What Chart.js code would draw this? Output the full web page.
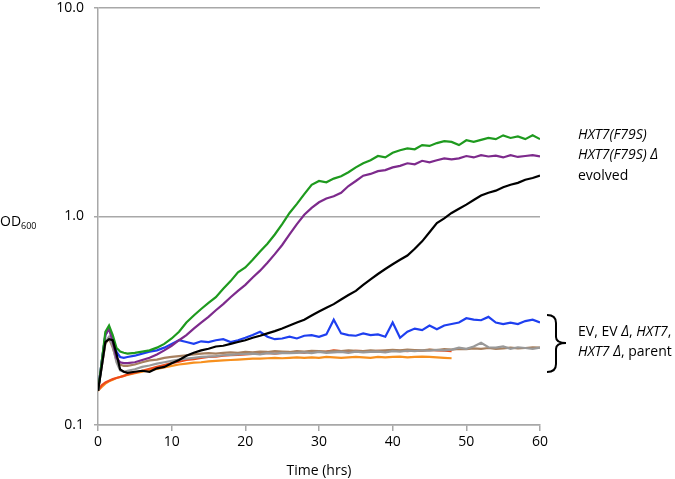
<!DOCTYPE html>
<html><head><meta charset="utf-8">
<script src="https://cdn.jsdelivr.net/npm/chart.js@4.4.1/dist/chart.umd.min.js"></script>
<style>html,body{margin:0;padding:0;background:#fff}#wrap{width:675px;height:479px}</style>
</head><body><div id="wrap"><canvas id="c"></canvas></div>
<script>
// time points (hrs)
const hours=[0,0.5,1,1.5,2,2.5,3,3.5,4,5,6,7,8,9,10,11,12,13,14,15,16,17,18,19,20,21,22,23,24,25,26,27,28,29,30,31,32,33,34,35,36,37,38,39,40,41,42,43,44,45,46,47,48,49,50,51,52,53,54,55,56,57,58,59,60];
const yTicks=[0.1,1,10];
const evolved=[0.146,0.19,0.25,0.258,0.255,0.22,0.185,0.18,0.178,0.18,0.182,0.18,0.187,0.19,0.198,0.205,0.215,0.222,0.228,0.232,0.238,0.24,0.245,0.25,0.255,0.262,0.268,0.275,0.282,0.29,0.3,0.31,0.32,0.335,0.35,0.365,0.38,0.4,0.42,0.44,0.47,0.5,0.53,0.56,0.59,0.62,0.65,0.7,0.76,0.84,0.93,0.98,1.04,1.09,1.14,1.2,1.26,1.3,1.33,1.38,1.42,1.45,1.5,1.53,1.57];
const f79s=[0.146,0.2,0.28,0.3,0.27,0.235,0.225,0.222,0.22,0.222,0.225,0.228,0.235,0.245,0.26,0.28,0.31,0.335,0.36,0.385,0.41,0.45,0.49,0.54,0.57,0.62,0.68,0.74,0.82,0.92,1.04,1.15,1.28,1.42,1.48,1.46,1.52,1.56,1.63,1.72,1.8,1.86,1.95,1.92,2.02,2.08,2.12,2.1,2.2,2.18,2.25,2.3,2.28,2.2,2.32,2.28,2.33,2.38,2.35,2.45,2.38,2.42,2.35,2.45,2.35];
const f79sDel=[0.146,0.2,0.27,0.29,0.25,0.21,0.2,0.198,0.198,0.2,0.205,0.21,0.218,0.228,0.24,0.255,0.27,0.29,0.31,0.33,0.355,0.38,0.41,0.44,0.47,0.51,0.55,0.6,0.66,0.73,0.82,0.92,1.02,1.1,1.17,1.22,1.25,1.3,1.4,1.48,1.57,1.6,1.65,1.67,1.72,1.75,1.8,1.78,1.85,1.82,1.86,1.9,1.88,1.9,1.95,1.92,1.97,1.94,1.96,1.92,1.97,1.93,1.95,1.97,1.94];
const blue=[0.146,0.2,0.27,0.29,0.26,0.225,0.212,0.21,0.212,0.215,0.22,0.225,0.228,0.235,0.245,0.255,0.25,0.245,0.252,0.25,0.255,0.258,0.25,0.255,0.262,0.27,0.28,0.265,0.258,0.26,0.265,0.26,0.268,0.27,0.265,0.272,0.32,0.275,0.27,0.268,0.275,0.27,0.272,0.265,0.31,0.262,0.28,0.29,0.285,0.3,0.288,0.3,0.305,0.31,0.325,0.32,0.318,0.33,0.31,0.305,0.31,0.305,0.315,0.32,0.31];
const gray=[0.146,0.19,0.25,0.265,0.24,0.2,0.183,0.18,0.182,0.185,0.19,0.193,0.197,0.2,0.203,0.206,0.208,0.21,0.212,0.213,0.214,0.216,0.217,0.218,0.219,0.22,0.218,0.221,0.22,0.222,0.221,0.222,0.223,0.221,0.224,0.222,0.223,0.224,0.222,0.225,0.223,0.224,0.225,0.223,0.226,0.225,0.227,0.226,0.228,0.227,0.229,0.228,0.23,0.235,0.232,0.238,0.248,0.236,0.235,0.238,0.232,0.236,0.234,0.232,0.235];
const brown=[0.146,0.19,0.245,0.26,0.235,0.205,0.195,0.192,0.192,0.195,0.2,0.204,0.206,0.21,0.212,0.214,0.216,0.218,0.22,0.221,0.22,0.222,0.223,0.222,0.224,0.223,0.225,0.224,0.226,0.225,0.224,0.226,0.225,0.227,0.226,0.225,0.227,0.226,0.228,0.227,0.226,0.228,0.227,0.228,0.229,0.228,0.23,0.229,0.228,0.23,0.229,0.231,0.23,0.232,0.231,0.233,0.232,0.234,0.232,0.233,0.235,0.233,0.234,0.236,0.235];
const red=[0.146,0.155,0.16,0.163,0.166,0.168,0.17,0.172,0.175,0.178,0.182,0.186,0.19,0.194,0.198,0.201,0.205,0.207,0.21,0.212,0.213,0.215,0.216,0.217,0.218,0.219,0.22,0.222,0.22,0.222,0.223,0.224,0.222,0.226,0.224,0.225,0.228,0.226,0.225,0.227,0.226,0.225,0.227,0.226,0.228,0.227,0.226,0.228,0.227,0.229,0.228,0.227,0.226];
const orange=[0.146,0.152,0.158,0.162,0.165,0.168,0.17,0.172,0.174,0.177,0.18,0.183,0.186,0.189,0.192,0.195,0.197,0.199,0.2,0.202,0.203,0.204,0.205,0.206,0.207,0.208,0.208,0.209,0.21,0.209,0.21,0.211,0.21,0.211,0.21,0.212,0.211,0.21,0.211,0.212,0.211,0.21,0.212,0.211,0.212,0.213,0.211,0.212,0.213,0.212,0.211,0.21,0.209];

const pts=a=>a.map((v,i)=>({x:hours[i],y:v}));
const line=(d,c)=>({data:pts(d),borderColor:c,borderWidth:2.2,pointRadius:0,tension:0,fill:false});
const grid='#a8a8a8';
const FONT='"Open Sans"';

const notes={id:'notes',afterDraw(ch){
 const x=ch.ctx;x.save();x.fillStyle='#000';x.textBaseline='middle';x.textAlign='left';
 x.font='14px '+FONT;x.fillText('OD',0,222);
 x.font='9px '+FONT;x.fillText('600',21,226);
 x.font='italic 14px '+FONT;
 x.fillText('HXT7(F79S)',578,135);
 x.fillText('HXT7(F79S) Δ',578,155);
 x.font='14px '+FONT;x.fillText('evolved',578,176);
 // lower label with mixed italics
 let px=578;const put=(t,it,y)=>{x.font=(it?'italic ':'')+'14px '+FONT;x.fillText(t,px,y);px+=x.measureText(t).width;};
 put('EV, EV ',0,332);put('Δ',1,332);put(', ',0,332);put('HXT7',1,332);put(',',0,332);
 px=578;put('HXT7 Δ',1,352);put(', parent',0,352);
 x.strokeStyle='#000';x.lineWidth=2;x.beginPath();
 x.moveTo(547,315);x.quadraticCurveTo(556,315,556,323);x.lineTo(556,337);x.quadraticCurveTo(556,343,566,343);
 x.quadraticCurveTo(556,343,556,349);x.lineTo(556,364);x.quadraticCurveTo(556,372,547,372);x.stroke();
 x.restore();}};

new Chart(document.getElementById('c'),{type:'line',
 data:{datasets:[line(evolved,'#000000'),line(f79s,'#1e9a1e'),line(f79sDel,'#7d2a8c'),line(blue,'#1e3ff0'),line(gray,'#999999'),line(brown,'#a7805f'),line(red,'#ee4a1a'),line(orange,'#f7901e')]},
 options:{responsive:true,maintainAspectRatio:false,animation:false,
  layout:{padding:{left:0,right:135,top:8,bottom:0}},
  plugins:{legend:{display:false},tooltip:{enabled:false}},
  scales:{
   x:{type:'linear',min:0,max:60,
    ticks:{stepSize:10,color:'#000',font:{family:'Open Sans',size:14},padding:3,maxRotation:0},
    grid:{drawOnChartArea:false,drawTicks:true,tickLength:6,color:grid,lineWidth:1.5},
    border:{color:grid,width:1.5},
    title:{display:true,text:'Time (hrs)',color:'#000',font:{family:'Open Sans',size:14},padding:{top:0,bottom:0}},
    afterFit:s=>{s.height=54;s.paddingLeft=0;s.paddingRight=0}},
   y:{type:'logarithmic',min:0.1,max:10,
    afterBuildTicks:s=>{s.ticks=yTicks.map(v=>({value:v}))},
    ticks:{color:'#000',font:{family:'Open Sans',size:14},padding:10,callback:v=>Number(v).toFixed(1)},
    grid:{color:grid,lineWidth:1.5,tickLength:4},
    border:{color:grid,width:1.5},
    afterFit:s=>{s.width=98;s.paddingTop=0;s.paddingBottom=0}}
  }},
 plugins:[notes]});
</script></body></html>
